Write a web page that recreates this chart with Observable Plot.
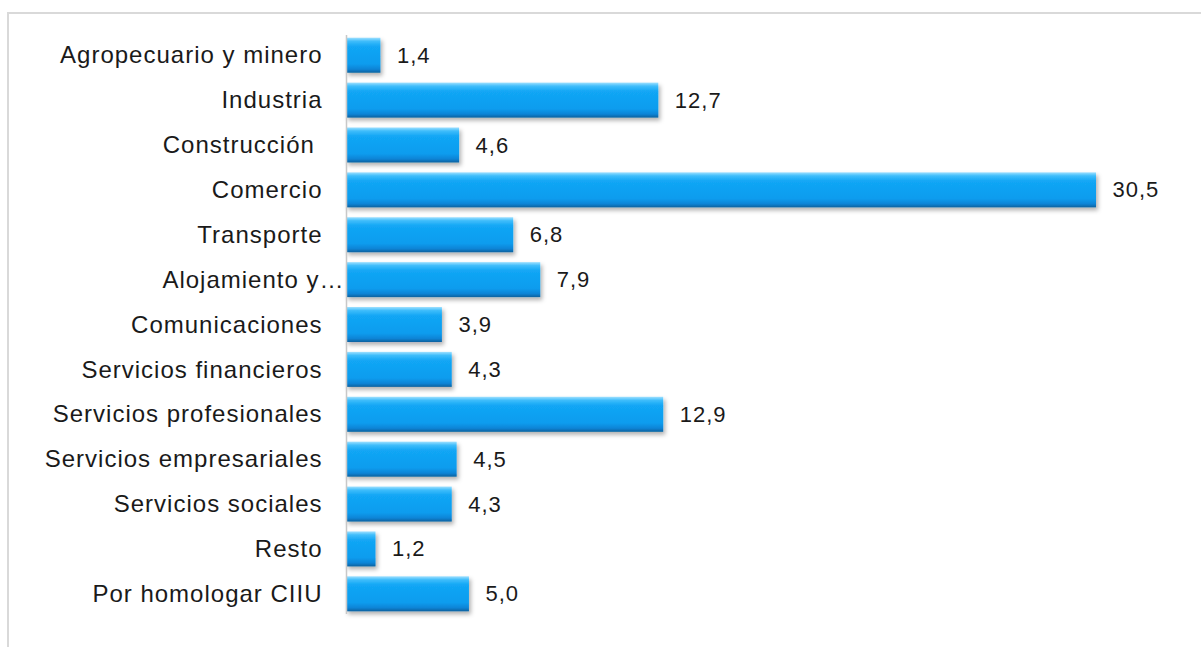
<!DOCTYPE html>
<html>
<head>
<meta charset="utf-8">
<script src="https://cdn.jsdelivr.net/npm/d3@7"></script>
<script src="https://cdn.jsdelivr.net/npm/@observablehq/plot@0.6"></script>
<style>
  html, body { margin: 0; padding: 0; background: #fff; overflow: hidden; }
  #wrap { position: relative; width: 1201px; height: 647px; }
  #frame { position: absolute; left: 7px; top: 12px; width: 1260px; height: 700px;
           border: 2px solid #d9d9d9; box-sizing: border-box; }
  #chart { position: absolute; left: 0; top: 0; }
</style>
</head>
<body>
<div id="wrap"><div id="frame"></div><div id="chart"></div></div>
<script>
const categories = [
  "Agropecuario y minero", "Industria", "Construcción\u00a0", "Comercio", "Transporte",
  "Alojamiento y…", "Comunicaciones", "Servicios financieros", "Servicios profesionales",
  "Servicios empresariales", "Servicios sociales", "Resto", "Por homologar CIIU"
];
const values = [1.4, 12.7, 4.6, 30.5, 6.8, 7.9, 3.9, 4.3, 12.9, 4.5, 4.3, 1.2, 5.0];
const truncated = ["Alojamiento y…"];

const data = categories.map((c, i) => ({name: c, value: values[i]}));
const fmt = v => v.toFixed(1).replace(".", ",");
const font = "'Liberation Sans', Arial, sans-serif";

const chart = Plot.plot({
  width: 1201,
  height: 647,
  marginLeft: 346,
  marginRight: 105,
  marginTop: 35,
  marginBottom: 33,
  style: {fontFamily: font, background: "transparent", overflow: "visible"},
  x: {domain: [0, 30.5], axis: null},
  y: {domain: categories, axis: null, paddingInner: 0.22, paddingOuter: 0.06, round: false},
  marks: [
    Plot.barX(data, {x: "value", y: "name", fill: "url(#barGrad)", className: "bevelbar"}),
    Plot.ruleX([0], {stroke: "#c8c8c8", strokeWidth: 1.5}),
    Plot.text(data.filter(d => !truncated.includes(d.name)), {
      x: 0, y: "name", text: "name", textAnchor: "end", dx: -24,
      fontSize: 24, fill: "#1a1a1a", className: "lbl"
    }),
    Plot.text(data.filter(d => truncated.includes(d.name)), {
      x: 0, y: "name", text: "name", textAnchor: "end", dx: -2,
      fontSize: 24, fill: "#1a1a1a", className: "lbl"
    }),
    Plot.text(data, {
      x: "value", y: "name", text: d => fmt(d.value), textAnchor: "start", dx: 16,
      fontSize: 22, fill: "#1a1a1a", className: "val"
    })
  ]
});

const svg = d3.select(chart);
const defs = svg.insert("defs", ":first-child");
const g = defs.append("linearGradient").attr("id", "barGrad")
  .attr("x1", 0).attr("y1", 0).attr("x2", 0).attr("y2", 1);
[[0, "#9fe0ff"], [0.1, "#3fbdfb"], [0.25, "#12a6f5"], [0.75, "#0d9cee"], [0.9, "#0a84d6"], [1, "#08619e"]]
  .forEach(([o, c]) => g.append("stop").attr("offset", o).attr("stop-color", c));
const f = defs.append("filter").attr("id", "barShadow")
  .attr("x", "-10%").attr("y", "-20%").attr("width", "130%").attr("height", "160%");
f.append("feDropShadow").attr("dx", 2).attr("dy", 3).attr("stdDeviation", 2)
  .attr("flood-color", "#000").attr("flood-opacity", 0.3);
svg.selectAll("g.bevelbar rect").attr("filter", "url(#barShadow)");
svg.selectAll("g.lbl text").style("letter-spacing", "1px");
svg.selectAll("g.val text").style("letter-spacing", "1px");

document.getElementById("chart").appendChild(chart);
</script>
</body>
</html>
